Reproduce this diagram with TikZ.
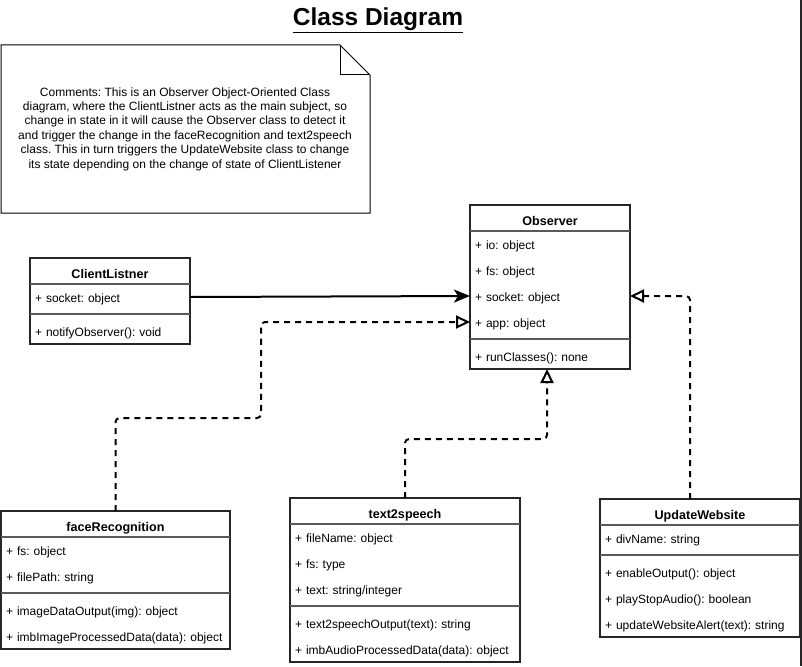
\documentclass[tikz,border=0pt]{standalone}
\usepackage{fontspec}
\setmainfont{Liberation Sans}
\usetikzlibrary{arrows.meta, positioning}
\frenchspacing

\begin{document}
\begin{tikzpicture}[
  x=1pt, y=-1pt,
  title/.style={font=\fontsize{24.5}{30}\selectfont\bfseries, inner sep=0pt},
  comment/.style={align=center, font=\fontsize{12}{14.4}\selectfont, inner sep=0pt},
  notebox/.style={draw=black, line width=1pt, line join=miter},
  classname/.style={minimum width=#1, minimum height=26pt, inner sep=0pt, outer sep=0pt, text height=15pt, text depth=0pt, font=\fontsize{12.6}{14}\selectfont\bfseries},
  field/.style={text width=#1, minimum height=26pt, inner xsep=5pt, inner ysep=0pt, outer sep=0pt, text height=12.5pt, text depth=1.5pt, align=left, font=\fontsize{12}{14}\selectfont},
  frame/.style={draw=black!85, line width=1.2pt},
  sepline/.style={draw=black!65, line width=1.2pt},
  assoc/.style={line width=2pt, -{Stealth[length=16pt, width=13pt, inset=4pt]}},
  realize/.style={line width=2pt, dash pattern=on 6pt off 5pt, rounded corners=4pt, -{Triangle[open, length=14pt, width=13pt]}}
]
  \useasboundingbox (0,0) rectangle (802,666);

  % title and comment
  \node[title, anchor=base] (title) at (378,26) {\underline{Class Diagram}};
  \node[comment] (note) at (185,129) {Comments: This is an Observer Object-Oriented Class\\
    diagram, where the ClientListner acts as the main subject, so\\
    change in state in it will cause the Observer class to detect it\\
    and trigger the change in the faceRecognition and text2speech\\
    class. This in turn triggers the UpdateWebsite class to change\\
    its state depending on the change of state of ClientListener};
  \draw[notebox] (1,45) -- (340,45) -- (370,75) -- (370,213) -- (1,213) -- cycle;
  \draw[notebox] (340,45) -- (340,75) -- (370,75);

  % ClientListner
  \node[classname=160pt, anchor=north west] (clientHead) at (30,258) {ClientListner};
  \node[field=150pt, below=0pt of clientHead] (clientSocket) {+ socket: object};
  \node[field=150pt, below=8pt of clientSocket] (clientNotify) {+ notifyObserver(): void};
  \draw[frame] (clientHead.north west) rectangle (clientNotify.south east);
  \draw[sepline] (clientHead.south west) -- (clientHead.south east);
  \draw[sepline] ([yshift=-4pt]clientSocket.south west) -- ([yshift=-4pt]clientSocket.south east);

  % Observer
  \node[classname=160pt, anchor=north west] (obsHead) at (470,205) {Observer};
  \node[field=150pt, below=0pt of obsHead] (obsIo) {+ io: object};
  \node[field=150pt, below=0pt of obsIo] (obsFs) {+ fs: object};
  \node[field=150pt, below=0pt of obsFs] (obsSocket) {+ socket: object};
  \node[field=150pt, below=0pt of obsSocket] (obsApp) {+ app: object};
  \node[field=150pt, below=8pt of obsApp] (obsRun) {+ runClasses(): none};
  \draw[frame] (obsHead.north west) rectangle (obsRun.south east);
  \draw[sepline] (obsHead.south west) -- (obsHead.south east);
  \draw[sepline] ([yshift=-4pt]obsApp.south west) -- ([yshift=-4pt]obsApp.south east);

  % faceRecognition
  \node[classname=229pt, anchor=north west] (faceHead) at (1,511) {faceRecognition};
  \node[field=219pt, below=0pt of faceHead] (faceFs) {+ fs: object};
  \node[field=219pt, below=0pt of faceFs] (facePath) {+ filePath: string};
  \node[field=219pt, below=8pt of facePath] (faceImage) {+ imageDataOutput(img): object};
  \node[field=219pt, below=0pt of faceImage] (faceImb) {+ imbImageProcessedData(data): object};
  \draw[frame] (faceHead.north west) rectangle (faceImb.south east);
  \draw[sepline] (faceHead.south west) -- (faceHead.south east);
  \draw[sepline] ([yshift=-4pt]facePath.south west) -- ([yshift=-4pt]facePath.south east);

  % text2speech
  \node[classname=230pt, anchor=north west] (ttsHead) at (290,498) {text2speech};
  \node[field=220pt, below=0pt of ttsHead] (ttsFile) {+ fileName: object};
  \node[field=220pt, below=0pt of ttsFile] (ttsFs) {+ fs: type};
  \node[field=220pt, below=0pt of ttsFs] (ttsText) {+ text: string/integer};
  \node[field=220pt, below=8pt of ttsText] (ttsOutput) {+ text2speechOutput(text): string};
  \node[field=220pt, below=0pt of ttsOutput] (ttsImb) {+ imbAudioProcessedData(data): object};
  \draw[frame] (ttsHead.north west) rectangle (ttsImb.south east);
  \draw[sepline] (ttsHead.south west) -- (ttsHead.south east);
  \draw[sepline] ([yshift=-4pt]ttsText.south west) -- ([yshift=-4pt]ttsText.south east);

  % UpdateWebsite
  \node[classname=200pt, anchor=north west] (webHead) at (600,499) {UpdateWebsite};
  \node[field=190pt, below=0pt of webHead] (webDiv) {+ divName: string};
  \node[field=190pt, below=8pt of webDiv] (webEnable) {+ enableOutput(): object};
  \node[field=190pt, below=0pt of webEnable] (webPlay) {+ playStopAudio(): boolean};
  \node[field=190pt, below=0pt of webPlay] (webAlert) {+ updateWebsiteAlert(text): string};
  \draw[frame] (webHead.north west) rectangle (webAlert.south east);
  \draw[sepline] (webHead.south west) -- (webHead.south east);
  \draw[sepline] ([yshift=-4pt]webDiv.south west) -- ([yshift=-4pt]webDiv.south east);

  % page edge
  \draw[frame] (801,0) -- (801,666);

  % connectors
  \coordinate (faceBend) at (261,418);
  \coordinate (ttsBend) at (547,439);
  \draw[assoc] (clientSocket.east) -- (obsSocket.west);
  \draw[realize] (faceHead.north) |- (faceBend) |- (obsApp.west);
  \draw[realize] (ttsHead.north) |- (ttsBend) -- (ttsBend |- obsRun.south);
  \draw[realize] ([xshift=-10pt]webHead.north) |- (obsSocket.east);
\end{tikzpicture}
\end{document}
